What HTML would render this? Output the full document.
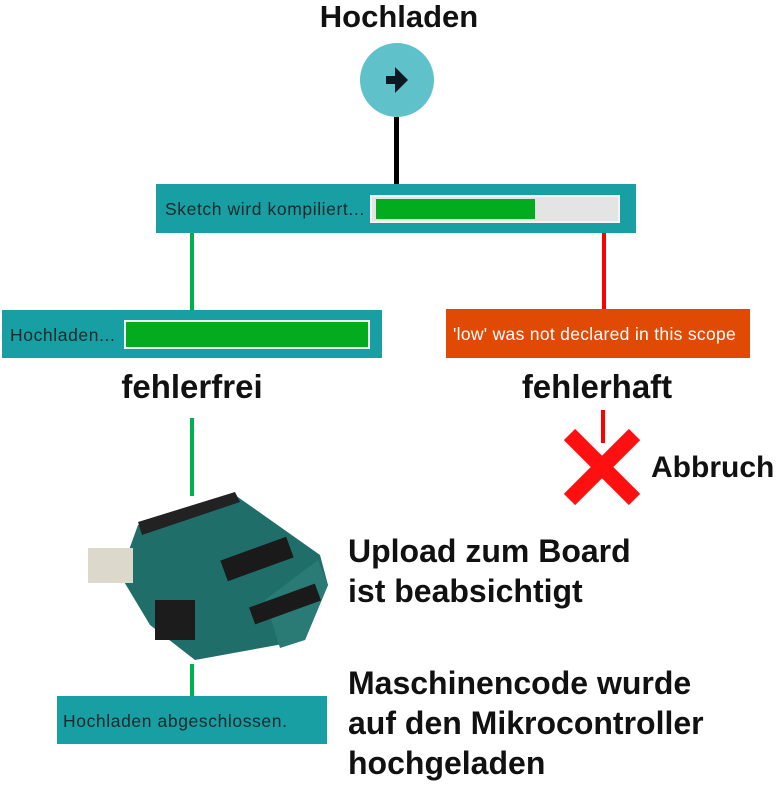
<!DOCTYPE html>
<html><head><meta charset="utf-8"><style>
body{margin:0;width:784px;height:785px;background:#fff;position:relative;overflow:hidden;font-family:"Liberation Sans",sans-serif}
.a{position:absolute}
.h{font-weight:bold;font-size:32px;color:#111;white-space:nowrap}
.box{position:absolute;background:#179fa4}
.t{position:absolute;font-size:17.5px;letter-spacing:0.6px;color:#1a2a2a;white-space:nowrap}
</style></head><body>
<div class="a h" style="left:0;width:798px;text-align:center;top:-1px;font-size:31px">Hochladen</div>
<svg class="a" style="left:0;top:0" width="784" height="785">
<circle cx="397" cy="80" r="37" fill="#5fc1c9"/>
<path d="M386 76 h9 v-9 l13 13 l-13 13 v-9 h-9z" fill="#0b1a22"/>
<rect x="394" y="117" width="5" height="68" fill="#000"/>
<rect x="190" y="233" width="4" height="78" fill="#00b050"/>
<rect x="602" y="233" width="4" height="77" fill="#ff0000"/>
<rect x="190" y="418" width="4" height="78" fill="#00b050"/>
<rect x="601" y="410" width="4" height="33" fill="#ff0000"/>
<rect x="190" y="664" width="4" height="32" fill="#00b050"/>
<g transform="translate(602,467) rotate(45)"><rect x="-46" y="-8" width="92" height="16" fill="#ff1010"/><rect x="-8" y="-46" width="16" height="92" fill="#ff1010"/></g>
<polygon points="138,525 235,495 320,555 328,585 305,640 195,660 150,625 120,575" fill="#1f6e6a"/>
<polygon points="138,522 235,492 240,502 142,535" fill="#222"/>
<polygon points="265,600 318,560 328,585 305,640 280,648" fill="#2a7a75"/>
<rect x="88" y="548" width="45" height="35" fill="#ddd8cc"/>
<rect x="155" y="600" width="40" height="40" fill="#1c1c1c"/>
<rect x="222" y="548" width="70" height="22" fill="#1a1a1a" transform="rotate(-20 257 559)"/>
<rect x="250" y="595" width="70" height="18" fill="#1a1a1a" transform="rotate(-20 285 604)"/>
</svg>
<div class="box" style="left:156px;top:184px;width:480px;height:49px"></div>
<div class="t" style="left:165px;top:199px">Sketch wird kompiliert...</div>
<div class="a" style="left:370px;top:195px;width:246px;height:24px;background:#e4e4e4;border:2px solid #f4f4f4"></div>
<div class="a" style="left:376px;top:199px;width:159px;height:20px;background:#03ab1f"></div>
<div class="box" style="left:2px;top:310px;width:380px;height:48px"></div>
<div class="t" style="left:10px;top:325px">Hochladen...</div>
<div class="a" style="left:124px;top:320px;width:242px;height:25px;background:#03ab1f;border:2px solid #f0f0f0"></div>
<div class="a" style="left:446px;top:309px;width:304px;height:49px;background:#e14a05"></div>
<div class="t" style="left:453px;top:324px;color:#fff;letter-spacing:0.3px">'low' was not declared in this scope</div>
<div class="a h" style="left:82px;width:220px;text-align:center;top:368px;font-size:33px">fehlerfrei</div>
<div class="a h" style="left:487px;width:220px;text-align:center;top:368px;font-size:33px">fehlerhaft</div>
<div class="a h" style="left:651px;top:451px;font-size:30px">Abbruch</div>
<div class="a h" style="left:348px;top:531px;line-height:40px">Upload zum Board<br>ist beabsichtigt</div>
<div class="a h" style="left:348px;top:663px;line-height:40px">Maschinencode wurde<br>auf den Mikrocontroller<br>hochgeladen</div>
<div class="box" style="left:57px;top:696px;width:270px;height:48px"></div>
<div class="t" style="left:63px;top:711px">Hochladen abgeschlossen.</div>
</body></html>
